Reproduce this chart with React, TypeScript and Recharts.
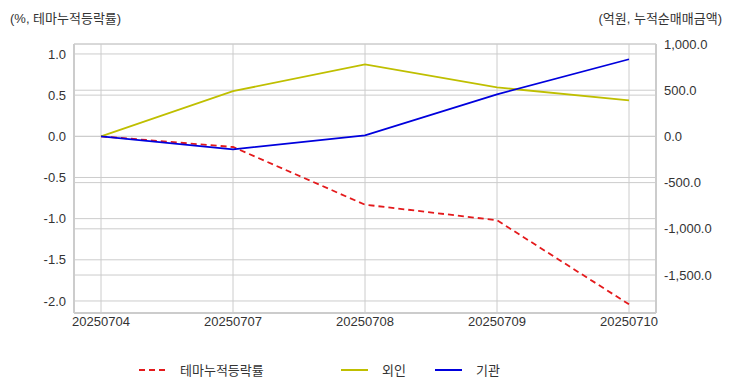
import { CartesianGrid, ComposedChart, Line, XAxis, YAxis } from "recharts";

const DATES = ["20250704", "20250707", "20250708", "20250709", "20250710"];
const THEME_RATE = [0.0, -0.13, -0.83, -1.02, -2.04];
const FOREIGN = [0, 490, 780, 530, 390];
const INSTITUTION = [0, -140, 10, 455, 835];

const LEFT_TICKS = [-2.0, -1.5, -1.0, -0.5, 0.0, 0.5, 1.0];
const RIGHT_TICKS = [-1500, -1000, -500, 0, 500, 1000];

const SERIES = [
  { key: "theme", name: "테마누적등락률", color: "#e41a1c", dashed: true, axis: "left" },
  { key: "foreign", name: "외인", color: "#bfbf00", dashed: false, axis: "right" },
  { key: "inst", name: "기관", color: "#0000dd", dashed: false, axis: "right" },
];
// legend item x positions (line start)
const LEGEND_X = [139, 341, 435];

const FONT = "'Liberation Sans', 'Noto Sans CJK KR', sans-serif";
const GRID = "#cccccc";
const TEXT = "#333333";

const data = DATES.map((d, i) => ({
  date: d,
  theme: THEME_RATE[i],
  foreign: FOREIGN[i],
  inst: INSTITUTION[i],
}));

const fmtRight = (v: number) =>
  v.toLocaleString("en-US", { minimumFractionDigits: 1, maximumFractionDigits: 1 });

export default function App() {
  const tick = { fill: TEXT, fontSize: 13, fontFamily: FONT };
  return (
    <div style={{ position: "absolute", left: 0, top: 0, width: 732, height: 392, background: "#fff", fontFamily: FONT }}>
      <div style={{ position: "absolute", left: 10, top: 8, fontSize: 13, color: TEXT }}>(%, 테마누적등락률)</div>
      <div style={{ position: "absolute", right: 10, top: 8, fontSize: 13, color: TEXT }}>(억원, 누적순매매금액)</div>
      <ComposedChart width={732} height={392} data={data} margin={{ top: 44, right: 0, left: 0, bottom: 49 }}>
        <CartesianGrid yAxisId="left" stroke={GRID} strokeWidth={1} />
        <CartesianGrid yAxisId="right" stroke={GRID} strokeWidth={1} vertical={false} />
        <XAxis
          dataKey="date"
          padding={{ left: 27, right: 27 }}
          tick={{ ...tick, dy: -4 }}
          tickLine={false}
          axisLine={{ stroke: GRID, strokeWidth: 2 }}
          height={30}
          interval={0}
        />
        <XAxis xAxisId="top" orientation="top" dataKey="date" tick={false} tickLine={false} axisLine={{ stroke: GRID }} height={0} />
        <YAxis
          yAxisId="left"
          width={74}
          domain={[-2.146, 1.121]}
          ticks={LEFT_TICKS}
          tickFormatter={(v: number) => v.toFixed(1)}
          tick={tick}
          tickLine={false}
          axisLine={{ stroke: GRID, strokeWidth: 2 }}
          allowDataOverflow
        />
        <YAxis
          yAxisId="right"
          orientation="right"
          width={76}
          domain={[-1911, 1000]}
          ticks={RIGHT_TICKS}
          tickFormatter={fmtRight}
          tick={tick}
          tickLine={false}
          axisLine={{ stroke: GRID, strokeWidth: 2 }}
          allowDataOverflow
        />
        {SERIES.map((s) => (
          <Line
            key={s.key}
            yAxisId={s.axis}
            dataKey={s.key}
            name={s.name}
            stroke={s.color}
            strokeWidth={1.8}
            strokeDasharray={s.dashed ? "6 4" : undefined}
            dot={false}
            activeDot={false}
            type="linear"
            isAnimationActive={false}
          />
        ))}
      </ComposedChart>
      {SERIES.map((s, i) => (
        <div
          key={s.key}
          style={{ position: "absolute", top: 360, left: LEGEND_X[i], display: "flex", alignItems: "center", fontSize: 13, color: TEXT }}
        >
          <svg width={27} height={18} style={{ marginRight: 14 }}>
            <line x1={0} y1={9} x2={27} y2={9} stroke={s.color} strokeWidth={2} strokeDasharray={s.dashed ? "6 4" : undefined} />
          </svg>
          <span>{s.name}</span>
        </div>
      ))}
    </div>
  );
}
